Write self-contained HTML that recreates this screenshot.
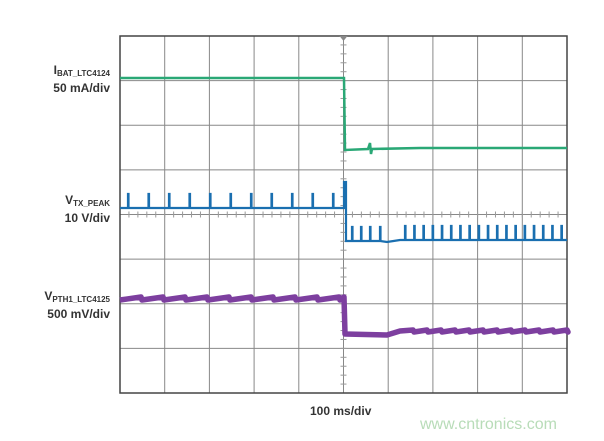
<!DOCTYPE html><html><head><style>
body{margin:0;width:604px;height:441px;background:#fff;overflow:hidden;font-family:"Liberation Sans",sans-serif;}
.l{position:absolute;right:494px;text-align:right;font-weight:bold;color:#333;font-size:12px;line-height:14px;white-space:nowrap}
.l sub{font-size:8px;vertical-align:-2px}
</style></head><body>
<div class="l" style="top:63px">I<sub>BAT_LTC4124</sub><br>50 mA/div</div>
<div class="l" style="top:193px">V<sub>TX_PEAK</sub><br>10 V/div</div>
<div class="l" style="top:289px">V<sub>PTH1_LTC4125</sub><br>500 mV/div</div>
<div style="position:absolute;left:310px;top:404px;font-weight:bold;font-size:12px;color:#333">100 ms/div</div>
<div style="position:absolute;left:420px;top:416px;font-size:16px;color:#b8dcb8">www.cntronics.com</div>
<svg id="s" width="604" height="441" style="position:absolute;left:0;top:0"></svg>
<script>
var s='',L=120,T=36,W=447,H=357,dx=W/10,dy=H/8;
for(var i=1;i<10;i++)s+='<line x1="'+(L+i*dx)+'" y1="'+T+'" x2="'+(L+i*dx)+'" y2="'+(T+H)+'" stroke="#888" stroke-width="1"/>';
for(var j=1;j<8;j++)s+='<line x1="'+L+'" y1="'+(T+j*dy)+'" x2="'+(L+W)+'" y2="'+(T+j*dy)+'" stroke="#888" stroke-width="1"/>';
var cx=L+5*dx,cy=T+4*dy;
for(var k=0;k<50;k++){var x=L+k*dx/5;s+='<line x1="'+x+'" y1="'+(cy-3)+'" x2="'+x+'" y2="'+(cy+3)+'" stroke="#999"/>';}
for(var k=0;k<40;k++){var y=T+k*dy/5;s+='<line x1="'+(cx-3)+'" y1="'+y+'" x2="'+(cx+3)+'" y2="'+y+'" stroke="#999"/>';}
s+='<rect x="'+L+'" y="'+T+'" width="'+W+'" height="'+H+'" fill="none" stroke="#444" stroke-width="1.5"/>';
s+='<polygon points="'+(cx-4)+','+(T)+' '+(cx+4)+','+T+' '+cx+','+(T+5)+'" fill="#888"/>';
s+='<path d="M120,78 L344,78 L345,150 L368,149 L370,143 L371,154 L372,149 L420,148 L567,148" fill="none" stroke="#2aa876" stroke-width="2.5"/>';
var p='M120,208';
for(var x=128;x<340;x+=20.5){p+=' L'+x+',208 L'+x+',194 L'+(x+0.5)+',194 L'+(x+0.5)+',208';}
p+=' L344,208 L344,182 L346,182 L346,241';
var xs=[352,361,370,380];for(var q of xs){p+=' L'+q+',241 L'+q+',227 L'+(q+0.5)+',227 L'+(q+0.5)+',241';}
p+=' L387,242 L400,240';
for(var x=405;x<565;x+=9.2){p+=' L'+x+',240 L'+x+',226 L'+(x+0.5)+',226 L'+(x+0.5)+',240';}
p+=' L567,240';
s+='<path d="'+p+'" fill="none" stroke="#1a6fb0" stroke-width="2.2"/>';
p='M120,300';
for(var x=120;x<340;x+=22){p+=' L'+(x+21)+','+(297)+' L'+(x+22)+',300';}
p+=' L344,297 L345,334 L387,335 L400,331';
for(var x=400;x<565;x+=14){p+=' L'+(x+13)+',330 L'+(x+14)+',332';}
p+=' L567,331';
s+='<path d="'+p+'" fill="none" stroke="#7d3f9f" stroke-width="5.5" stroke-linejoin="round"/>';
document.getElementById('s').innerHTML=s;
</script>
</body></html>
